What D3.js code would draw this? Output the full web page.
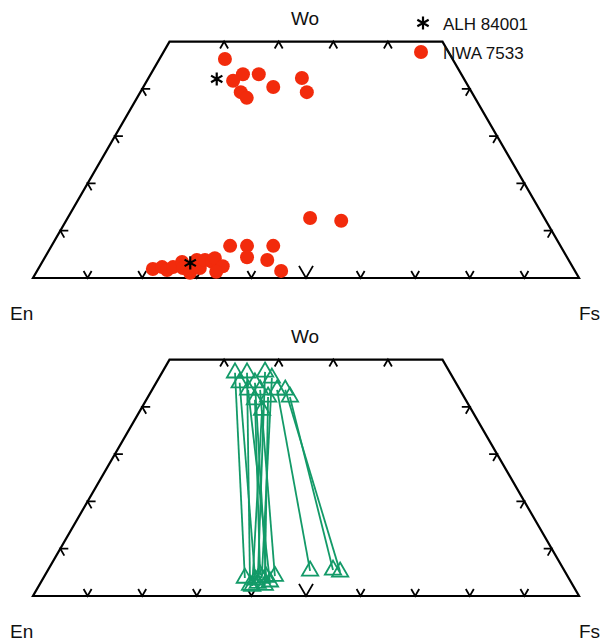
<!DOCTYPE html>
<html>
<head>
<meta charset="utf-8">
<script src="https://cdn.jsdelivr.net/npm/d3@7"></script>
<style>
  body { margin: 0; background: #fff; }
  text { font-family: "Liberation Sans", Arial, sans-serif; fill: #111; }
</style>
</head>
<body>
<svg width="604" height="641"></svg>
<script>
// compositions in mol% [Wo, Fs]; En = 100 - Wo - Fs
var alh84001 = [[42.1, 12.6], [3.2, 27.2]];

var nwa7533 = [
  [46.3, 12.0], [43.1, 16.9], [43.1, 19.8], [41.7, 15.8], [39.3, 18.4],
  [38.1, 20.1], [40.4, 23.8], [42.3, 28.1], [39.3, 30.5],
  [12.7, 44.4], [12.1, 50.4],
  [6.8, 32.7], [6.8, 35.8], [6.8, 40.6], [4.4, 37.0], [3.8, 41.0], [1.5, 44.7],
  [1.9, 21.0], [2.3, 22.5], [1.7, 23.7], [2.3, 24.5], [3.4, 25.6], [2.1, 26.4],
  [1.1, 28.2], [2.5, 28.0], [3.8, 28.1], [2.1, 29.5], [3.8, 29.6], [3.4, 31.1],
  [4.2, 31.2], [2.5, 33.5], [1.3, 32.9]
];

// pairs: high-Ca end [Wo, Fs], low-Ca end [Wo, Fs]
var pairsHigh = [
  [47.2, 13.4], [47.2, 15.6], [47.4, 18.8], [46.1, 20.7], [45.1, 18.1],
  [45.1, 15.3], [43.6, 17.6], [43.6, 19.8], [42.1, 22.0], [39.3, 22.3],
  [43.6, 22.9], [42.1, 26.0], [43.6, 24.4], [41.5, 19.9]
];
var pairsLow = [
  [3.8, 36.9], [2.3, 38.6], [2.7, 39.8], [3.8, 40.0], [4.0, 40.7],
  [3.4, 39.0], [3.0, 41.9], [4.2, 42.2], [2.3, 41.3], [2.1, 39.1],
  [5.3, 48.1], [5.5, 52.2], [5.1, 53.7], [4.4, 39.4]
];

var tickVals = [10, 20, 30, 40, 50, 60, 70, 80, 90];
var sideTicks = [10, 20, 30, 40];

var svg = d3.select("svg");
var left = 33, right = 579;
var side = right - left;
var tall = side * Math.sqrt(3) / 2;

var x = d3.scaleLinear().domain([0, 100]).range([left, right]);

function panel(base) {
  var y = d3.scaleLinear().domain([0, 100]).range([base, base - tall]);
  var g = svg.append("g");
  var proj = function(wo, fs) { return [x(fs + wo / 2), y(wo)]; };

  var outline = [proj(0, 0), proj(0, 100), proj(50, 50), proj(50, 0)];
  g.append("path")
    .attr("d", d3.line()(outline) + "Z")
    .attr("fill", "none")
    .attr("stroke", "#000")
    .attr("stroke-width", 2.2)
    .attr("stroke-linejoin", "miter");

  var s3 = Math.sqrt(3) / 2;
  function chevron(p, a, b, len) {
    return "M" + (p[0] + a[0] * len) + "," + (p[1] + a[1] * len) +
      "L" + p[0] + "," + p[1] +
      "L" + (p[0] + b[0] * len) + "," + (p[1] + b[1] * len);
  }
  var ticks = g.append("g")
    .attr("fill", "none").attr("stroke", "#000").attr("stroke-width", 1.8);
  tickVals.forEach(function(v) {
    ticks.append("path").attr("d",
      chevron(proj(0, v), [-0.5, -s3], [0.5, -s3], v == 50 ? 14 : 8));
  });
  sideTicks.forEach(function(v) {
    ticks.append("path").attr("d", chevron(proj(50, v), [-0.5, s3], [0.5, s3], 8));
    ticks.append("path").attr("d", chevron(proj(v, 0), [1, 0], [0.5, s3], 8));
    ticks.append("path").attr("d", chevron(proj(v, 100 - v), [-1, 0], [-0.5, s3], 8));
  });

  g.append("text").attr("x", 305).attr("y", base - tall / 2 - 17)
    .attr("text-anchor", "middle").attr("font-size", 19).text("Wo");
  g.append("text").attr("x", 10).attr("y", base + 42)
    .attr("font-size", 19).text("En");
  g.append("text").attr("x", 579).attr("y", base + 42)
    .attr("font-size", 19).text("Fs");
  return proj;
}

var top1 = panel(278);
var bot1 = panel(596);

// upper panel
svg.append("g").selectAll("circle")
  .data(nwa7533)
  .enter().append("circle")
    .attr("cx", function(d) { return top1(d[0], d[1])[0]; })
    .attr("cy", function(d) { return top1(d[0], d[1])[1]; })
    .attr("r", 7)
    .attr("fill", "#f22b0c");

var star = d3.symbol().type(d3.symbolAsterisk).size(120);
svg.append("g").selectAll("path")
  .data(alh84001)
  .enter().append("path")
    .attr("transform", function(d) { var p = top1(d[0], d[1]); return "translate(" + p[0] + "," + p[1] + ")"; })
    .attr("d", star)
    .attr("fill", "none")
    .attr("stroke", "#000")
    .attr("stroke-width", 2.2);

// legend
svg.append("path").attr("transform", "translate(423,23)").attr("d", star)
  .attr("fill", "none").attr("stroke", "#000").attr("stroke-width", 2.2);
svg.append("text").attr("x", 443).attr("y", 30).attr("font-size", 17).text("ALH 84001");
svg.append("circle").attr("cx", 421).attr("cy", 52).attr("r", 7).attr("fill", "#f22b0c");
svg.append("text").attr("x", 443).attr("y", 59).attr("font-size", 17).text("NWA 7533");

// lower panel: tie lines
var green = "#139a68";
var tie = svg.append("g");
tie.selectAll("line")
  .data(d3.range(pairsHigh.length))
  .enter().append("line")
    .attr("x1", function(i) { return bot1(pairsHigh[i][0], pairsHigh[i][1])[0]; })
    .attr("y1", function(i) { return bot1(pairsHigh[i][0], pairsHigh[i][1])[1]; })
    .attr("x2", function(i) { return bot1(pairsLow[i][0], pairsLow[i][1])[0]; })
    .attr("y2", function(i) { return bot1(pairsLow[i][0], pairsLow[i][1])[1]; })
    .attr("stroke", green)
    .attr("stroke-width", 1.8);

var tri = d3.symbol().type(d3.symbolTriangle).size(115);
tie.selectAll("path")
  .data(pairsHigh.concat(pairsLow))
  .enter().append("path")
    .attr("transform", function(d) { var p = bot1(d[0], d[1]); return "translate(" + p[0] + "," + p[1] + ")"; })
    .attr("d", tri)
    .attr("fill", "none")
    .attr("stroke", green)
    .attr("stroke-width", 1.8);
</script>
</body>
</html>
